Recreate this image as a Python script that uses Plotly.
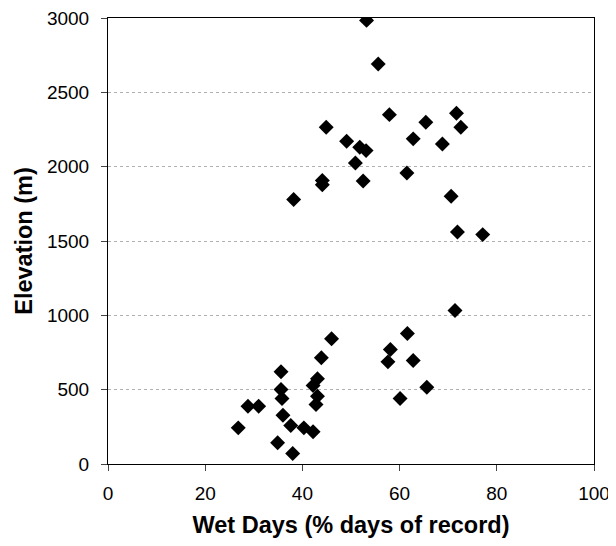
import plotly.graph_objects as go

wet_days = [
    53.2, 55.6, 57.9, 44.9, 49.1, 51.8, 53.1, 50.9, 52.5, 44.1, 44.1, 38.2,
    65.4, 62.8, 61.5, 68.8, 71.7, 72.6, 70.6, 71.9, 77.1, 71.4,
    26.8, 28.8, 31.0, 35.6, 35.6, 35.8, 36.0, 37.6, 34.9, 38.0, 40.3, 42.2,
    43.9, 46.0, 43.1, 42.2, 43.1, 42.8, 58.1, 57.6, 61.6, 62.8, 65.6, 60.1,
]
elevation = [
    2984, 2691, 2350, 2265, 2171, 2130, 2108, 2025, 1904, 1907, 1878, 1779,
    2299, 2187, 1958, 2153, 2359, 2265, 1801, 1561, 1543, 1032,
    243, 389, 389, 620, 501, 440, 328, 259, 143, 71, 243, 217,
    714, 842, 573, 528, 456, 400, 770, 687, 878, 696, 516, 440,
]

x_ticks = [0, 20, 40, 60, 80, 100]
y_ticks = [0, 500, 1000, 1500, 2000, 2500, 3000]

fig = go.Figure()
fig.add_trace(go.Scatter(
    x=wet_days, y=elevation, mode="markers",
    marker=dict(symbol="diamond", size=11.5, color="black"),
    showlegend=False,
))

font_family = "Liberation Sans, Arial, sans-serif"
# page body has an 8px default margin, so the figure is offset by 8px
fig.update_layout(
    width=606, height=530,
    margin=dict(l=100, r=20, t=10, b=74),
    paper_bgcolor="white", plot_bgcolor="white",
    font=dict(family=font_family, color="black", size=19),
    xaxis=dict(
        range=[0, 100], tickvals=x_ticks, ticks="outside", ticklen=6,
        tickcolor="#444", showgrid=False, zeroline=False,
        showline=True, linecolor="black", linewidth=1, mirror=True,
        tickfont=dict(size=19), ticklabelstandoff=6, automargin=False,
        ticklabeloverflow="allow",
        title=dict(text="<b>Wet Days (% days of record)</b>",
                   font=dict(size=23.5), standoff=20),
    ),
    yaxis=dict(
        range=[0, 3000], tickvals=y_ticks, ticks="outside", ticklen=6,
        tickcolor="#444", showgrid=True, gridcolor="#b0b0b0",
        griddash="dot", gridwidth=1, zeroline=False,
        showline=True, linecolor="black", linewidth=1, mirror=True,
        tickfont=dict(size=19), ticklabelstandoff=8, automargin=False,
        ticklabeloverflow="allow",
        title=dict(text="<b>Elevation (m)</b>", font=dict(size=23.5),
                   standoff=7),
    ),
)

fig.write_html("out.html")
